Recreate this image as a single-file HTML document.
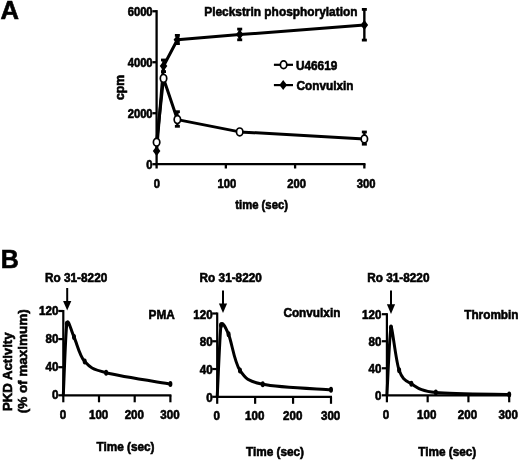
<!DOCTYPE html>
<html><head><meta charset="utf-8"><style>
html,body{margin:0;padding:0;background:#fff;}
body{width:520px;height:461px;overflow:hidden;}
svg{display:block;filter:blur(0.35px);}
text{font-family:"Liberation Sans", sans-serif;font-weight:bold;fill:#000;stroke:#000;stroke-width:0.6px;}
line{stroke:#000;stroke-linecap:butt;}
</style></head><body>
<svg width="520" height="461" viewBox="0 0 520 461">
<text transform="translate(0.5,18.90) scale(1.0000,1)" font-size="25.60" text-anchor="start" >A</text>
<text transform="translate(204.2,16.30) scale(0.8929,1)" font-size="13.33" text-anchor="start" >Pleckstrin phosphorylation</text>
<line x1="156.6" y1="10.1" x2="156.6" y2="168.5" stroke-width="2.3"/>
<line x1="155.45" y1="164.2" x2="365.5" y2="164.2" stroke-width="2.3"/>
<line x1="152.4" y1="11.259999999999991" x2="156.6" y2="11.259999999999991" stroke-width="2.3"/>
<line x1="152.4" y1="62.239999999999995" x2="156.6" y2="62.239999999999995" stroke-width="2.3"/>
<line x1="152.4" y1="113.22" x2="156.6" y2="113.22" stroke-width="2.3"/>
<line x1="152.4" y1="164.2" x2="156.6" y2="164.2" stroke-width="2.3"/>
<line x1="225.85" y1="164.2" x2="225.85" y2="168.5" stroke-width="2.3"/>
<line x1="295.1" y1="164.2" x2="295.1" y2="168.5" stroke-width="2.3"/>
<line x1="364.35" y1="164.2" x2="364.35" y2="168.5" stroke-width="2.3"/>
<text transform="translate(152.6,15.66) scale(0.9259,1)" font-size="12.10" text-anchor="end" >6000</text>
<text transform="translate(152.6,66.64) scale(0.9259,1)" font-size="12.10" text-anchor="end" >4000</text>
<text transform="translate(152.6,117.62) scale(0.9259,1)" font-size="12.10" text-anchor="end" >2000</text>
<text transform="translate(152.6,168.60) scale(0.9259,1)" font-size="12.10" text-anchor="end" >0</text>
<text transform="translate(156.9,187.90) scale(0.9259,1)" font-size="12.10" text-anchor="middle" >0</text>
<text transform="translate(226.8,187.90) scale(0.9259,1)" font-size="12.10" text-anchor="middle" >100</text>
<text transform="translate(296.6,187.90) scale(0.9259,1)" font-size="12.10" text-anchor="middle" >200</text>
<text transform="translate(366.2,187.90) scale(0.9259,1)" font-size="12.10" text-anchor="middle" >300</text>
<text transform="translate(261.6,208.90) scale(0.9259,1)" font-size="12.20" text-anchor="middle" >time (sec)</text>
<text transform="translate(123.6,87.5) rotate(-90)" font-size="12.2" text-anchor="middle">cpm</text>
<path d="M156.60,151.00 L163.53,66.00 L177.38,39.80 L239.70,34.60 L364.35,25.00" fill="none" stroke="#000" stroke-width="3.0" stroke-linejoin="round"/>
<path d="M156.60,142.20 L163.53,78.40 L177.38,119.60 L239.70,131.90 L364.35,139.00" fill="none" stroke="#000" stroke-width="3.0" stroke-linejoin="round"/>
<line x1="163.525" y1="59.6" x2="163.525" y2="72" stroke-width="2.4"/>
<line x1="161.025" y1="60.0" x2="166.025" y2="60.0" stroke-width="2.8"/>
<line x1="161.025" y1="71.6" x2="166.025" y2="71.6" stroke-width="2.8"/>
<line x1="177.375" y1="35" x2="177.375" y2="44" stroke-width="2.4"/>
<line x1="174.875" y1="35.4" x2="179.875" y2="35.4" stroke-width="2.8"/>
<line x1="174.875" y1="43.6" x2="179.875" y2="43.6" stroke-width="2.8"/>
<line x1="239.7" y1="28.7" x2="239.7" y2="40.2" stroke-width="2.4"/>
<line x1="237.2" y1="29.099999999999998" x2="242.2" y2="29.099999999999998" stroke-width="2.8"/>
<line x1="237.2" y1="39.800000000000004" x2="242.2" y2="39.800000000000004" stroke-width="2.8"/>
<line x1="364.35" y1="9" x2="364.35" y2="40.5" stroke-width="2.4"/>
<line x1="361.85" y1="9.4" x2="366.85" y2="9.4" stroke-width="2.8"/>
<line x1="361.85" y1="40.1" x2="366.85" y2="40.1" stroke-width="2.8"/>
<line x1="177.375" y1="111.3" x2="177.375" y2="126.7" stroke-width="2.4"/>
<line x1="174.875" y1="111.7" x2="179.875" y2="111.7" stroke-width="2.8"/>
<line x1="174.875" y1="126.3" x2="179.875" y2="126.3" stroke-width="2.8"/>
<line x1="364.35" y1="131.6" x2="364.35" y2="144.6" stroke-width="2.4"/>
<line x1="361.85" y1="132.0" x2="366.85" y2="132.0" stroke-width="2.8"/>
<line x1="361.85" y1="144.2" x2="366.85" y2="144.2" stroke-width="2.8"/>
<path d="M156.6,146.0 L160.4,151 L156.6,156.0 L152.79999999999998,151 Z" fill="#000" stroke="none"/>
<path d="M163.525,61.0 L167.32500000000002,66 L163.525,71.0 L159.725,66 Z" fill="#000" stroke="none"/>
<path d="M177.375,34.8 L181.175,39.8 L177.375,44.8 L173.575,39.8 Z" fill="#000" stroke="none"/>
<path d="M239.7,29.6 L243.5,34.6 L239.7,39.6 L235.89999999999998,34.6 Z" fill="#000" stroke="none"/>
<path d="M364.35,20.0 L368.15000000000003,25 L364.35,30.0 L360.55,25 Z" fill="#000" stroke="none"/>
<ellipse cx="156.6" cy="142.2" rx="3.2" ry="3.9" fill="#fff" stroke="#000" stroke-width="1.7"/>
<ellipse cx="163.525" cy="78.4" rx="3.2" ry="3.9" fill="#fff" stroke="#000" stroke-width="1.7"/>
<ellipse cx="177.375" cy="119.6" rx="3.2" ry="3.9" fill="#fff" stroke="#000" stroke-width="1.7"/>
<ellipse cx="239.7" cy="131.9" rx="3.2" ry="3.9" fill="#fff" stroke="#000" stroke-width="1.7"/>
<ellipse cx="364.35" cy="139" rx="3.2" ry="3.9" fill="#fff" stroke="#000" stroke-width="1.7"/>
<line x1="273.9" y1="64.8" x2="293" y2="64.8" stroke-width="2.2"/>
<ellipse cx="283.6" cy="64.8" rx="3.2" ry="3.9" fill="#fff" stroke="#000" stroke-width="1.7"/>
<text transform="translate(296.0,69.50) scale(0.9259,1)" font-size="12.74" text-anchor="start" >U46619</text>
<line x1="273.9" y1="85.1" x2="293" y2="85.1" stroke-width="2.2"/>
<path d="M283.2,80.1 L287.0,85.1 L283.2,90.1 L279.4,85.1 Z" fill="#000" stroke="none"/>
<text transform="translate(296.5,89.70) scale(0.9259,1)" font-size="12.74" text-anchor="start" >Convulxin</text>
<text transform="translate(0.8,267.70) scale(1.0000,1)" font-size="25.00" text-anchor="start" >B</text>
<text transform="translate(12.4,410.9) rotate(-90) scale(0.982,1)" font-size="13.4">PKD Activity</text>
<text transform="translate(26.6,413.3) rotate(-90) scale(0.983,1)" font-size="13.7">(% of maximum)</text>
<line x1="63.3" y1="310.0" x2="63.3" y2="402.3" stroke-width="2.2"/>
<line x1="62.3" y1="395.3" x2="171.4" y2="395.3" stroke-width="2.2"/>
<line x1="58.3" y1="311.0" x2="63.3" y2="311.0" stroke-width="2.2"/>
<line x1="58.3" y1="339.1" x2="63.3" y2="339.1" stroke-width="2.2"/>
<line x1="58.3" y1="367.2" x2="63.3" y2="367.2" stroke-width="2.2"/>
<line x1="58.3" y1="395.3" x2="63.3" y2="395.3" stroke-width="2.2"/>
<line x1="99.0" y1="395.3" x2="99.0" y2="402.3" stroke-width="2.2"/>
<line x1="134.7" y1="395.3" x2="134.7" y2="402.3" stroke-width="2.2"/>
<line x1="170.4" y1="395.3" x2="170.4" y2="402.3" stroke-width="2.2"/>
<text transform="translate(58.4,315.00) scale(0.9259,1)" font-size="12.53" text-anchor="end" >120</text>
<text transform="translate(58.4,343.10) scale(0.9259,1)" font-size="12.53" text-anchor="end" >80</text>
<text transform="translate(58.4,371.20) scale(0.9259,1)" font-size="12.53" text-anchor="end" >40</text>
<text transform="translate(58.4,399.30) scale(0.9259,1)" font-size="12.53" text-anchor="end" >0</text>
<text transform="translate(62.9,418.50) scale(0.9259,1)" font-size="12.53" text-anchor="middle" >0</text>
<text transform="translate(98.6,418.50) scale(0.9259,1)" font-size="12.53" text-anchor="middle" >100</text>
<text transform="translate(134.29999999999998,418.50) scale(0.9259,1)" font-size="12.53" text-anchor="middle" >200</text>
<text transform="translate(170.0,418.50) scale(0.9259,1)" font-size="12.53" text-anchor="middle" >300</text>
<text transform="translate(148.6,319.10) scale(0.9259,1)" font-size="12.74" text-anchor="start" >PMA</text>
<text transform="translate(45.0,281.60) scale(0.9259,1)" font-size="12.74" text-anchor="start" >Ro 31-8220</text>
<line x1="67.2" y1="288" x2="67.2" y2="304.6" stroke-width="2.0"/>
<path d="M63.1,301.0 L71.3,301.0 L67.2,310.6 Z" fill="#000"/>
<text transform="translate(125.5,450.70) scale(0.9259,1)" font-size="12.74" text-anchor="middle" >Time (sec)</text>
<path d="M63.30,395.30 C63.89,383.36 65.62,330.45 66.87,323.64 C68.12,316.84 71.03,330.67 74.01,336.99 C76.98,343.31 79.36,355.61 84.72,361.58 C90.08,367.55 91.86,369.07 106.14,372.82 C120.42,376.57 159.69,382.19 170.40,384.06" fill="none" stroke="#000" stroke-width="3.0" stroke-linejoin="round"/>
<ellipse cx="66.87" cy="323.64" rx="2.0" ry="3.0" fill="#000"/>
<ellipse cx="74.01" cy="336.99" rx="2.0" ry="3.0" fill="#000"/>
<ellipse cx="84.72" cy="361.58" rx="2.0" ry="3.0" fill="#000"/>
<ellipse cx="106.14" cy="372.82" rx="2.0" ry="3.0" fill="#000"/>
<ellipse cx="170.40" cy="384.06" rx="2.0" ry="3.0" fill="#000"/>
<line x1="217.2" y1="312.5" x2="217.2" y2="403.8" stroke-width="2.2"/>
<line x1="216.2" y1="396.8" x2="332.0" y2="396.8" stroke-width="2.2"/>
<line x1="212.2" y1="313.5" x2="217.2" y2="313.5" stroke-width="2.2"/>
<line x1="212.2" y1="341.26666666666665" x2="217.2" y2="341.26666666666665" stroke-width="2.2"/>
<line x1="212.2" y1="369.03333333333336" x2="217.2" y2="369.03333333333336" stroke-width="2.2"/>
<line x1="212.2" y1="396.8" x2="217.2" y2="396.8" stroke-width="2.2"/>
<line x1="255.13333333333333" y1="396.8" x2="255.13333333333333" y2="403.8" stroke-width="2.2"/>
<line x1="293.06666666666666" y1="396.8" x2="293.06666666666666" y2="403.8" stroke-width="2.2"/>
<line x1="331.0" y1="396.8" x2="331.0" y2="403.8" stroke-width="2.2"/>
<text transform="translate(212.6,318.50) scale(0.9259,1)" font-size="12.53" text-anchor="end" >120</text>
<text transform="translate(212.6,346.27) scale(0.9259,1)" font-size="12.53" text-anchor="end" >80</text>
<text transform="translate(212.6,374.03) scale(0.9259,1)" font-size="12.53" text-anchor="end" >40</text>
<text transform="translate(212.6,401.80) scale(0.9259,1)" font-size="12.53" text-anchor="end" >0</text>
<text transform="translate(216.79999999999998,420.40) scale(0.9259,1)" font-size="12.53" text-anchor="middle" >0</text>
<text transform="translate(254.73333333333332,420.40) scale(0.9259,1)" font-size="12.53" text-anchor="middle" >100</text>
<text transform="translate(292.6666666666667,420.40) scale(0.9259,1)" font-size="12.53" text-anchor="middle" >200</text>
<text transform="translate(330.6,420.40) scale(0.9259,1)" font-size="12.53" text-anchor="middle" >300</text>
<text transform="translate(283.4,317.10) scale(0.9259,1)" font-size="12.74" text-anchor="start" >Convulxin</text>
<text transform="translate(199.6,282.20) scale(0.9259,1)" font-size="12.74" text-anchor="start" >Ro 31-8220</text>
<line x1="223.0" y1="290.4" x2="223.0" y2="307.0" stroke-width="2.0"/>
<path d="M218.9,303.4 L227.1,303.4 L223.0,313.0 Z" fill="#000"/>
<text transform="translate(275.0,456.30) scale(0.9259,1)" font-size="12.74" text-anchor="middle" >Time (sec)</text>
<path d="M217.20,396.80 C217.83,384.88 220.04,330.51 220.99,325.30 C221.94,320.09 225.42,326.80 228.58,334.32 C231.74,341.85 234.27,362.09 239.96,370.42 C245.65,378.75 247.55,381.07 262.72,384.31 C277.89,387.54 319.62,388.93 331.00,389.86" fill="none" stroke="#000" stroke-width="3.0" stroke-linejoin="round"/>
<ellipse cx="220.99" cy="325.30" rx="2.0" ry="3.0" fill="#000"/>
<ellipse cx="228.58" cy="334.32" rx="2.0" ry="3.0" fill="#000"/>
<ellipse cx="239.96" cy="370.42" rx="2.0" ry="3.0" fill="#000"/>
<ellipse cx="262.72" cy="384.31" rx="2.0" ry="3.0" fill="#000"/>
<ellipse cx="331.00" cy="389.86" rx="2.0" ry="3.0" fill="#000"/>
<line x1="386.9" y1="313.2" x2="386.9" y2="402.3" stroke-width="2.2"/>
<line x1="385.9" y1="395.3" x2="510.2" y2="395.3" stroke-width="2.2"/>
<line x1="381.9" y1="314.2" x2="386.9" y2="314.2" stroke-width="2.2"/>
<line x1="381.9" y1="341.23333333333335" x2="386.9" y2="341.23333333333335" stroke-width="2.2"/>
<line x1="381.9" y1="368.26666666666665" x2="386.9" y2="368.26666666666665" stroke-width="2.2"/>
<line x1="381.9" y1="395.3" x2="386.9" y2="395.3" stroke-width="2.2"/>
<line x1="427.66666666666663" y1="395.3" x2="427.66666666666663" y2="402.3" stroke-width="2.2"/>
<line x1="468.4333333333333" y1="395.3" x2="468.4333333333333" y2="402.3" stroke-width="2.2"/>
<line x1="509.2" y1="395.3" x2="509.2" y2="402.3" stroke-width="2.2"/>
<text transform="translate(381.4,318.80) scale(0.9259,1)" font-size="12.53" text-anchor="end" >120</text>
<text transform="translate(381.4,345.83) scale(0.9259,1)" font-size="12.53" text-anchor="end" >80</text>
<text transform="translate(381.4,372.87) scale(0.9259,1)" font-size="12.53" text-anchor="end" >40</text>
<text transform="translate(381.4,399.90) scale(0.9259,1)" font-size="12.53" text-anchor="end" >0</text>
<text transform="translate(385.9,419.30) scale(0.9259,1)" font-size="12.53" text-anchor="middle" >0</text>
<text transform="translate(426.66666666666663,419.30) scale(0.9259,1)" font-size="12.53" text-anchor="middle" >100</text>
<text transform="translate(467.4333333333333,419.30) scale(0.9259,1)" font-size="12.53" text-anchor="middle" >200</text>
<text transform="translate(508.2,419.30) scale(0.9259,1)" font-size="12.53" text-anchor="middle" >300</text>
<text transform="translate(464.2,318.50) scale(0.9259,1)" font-size="12.74" text-anchor="start" >Thrombin</text>
<text transform="translate(367.2,282.20) scale(0.9259,1)" font-size="12.74" text-anchor="start" >Ro 31-8220</text>
<line x1="391.0" y1="290.6" x2="391.0" y2="307.9" stroke-width="2.0"/>
<path d="M386.9,304.29999999999995 L395.1,304.29999999999995 L391.0,313.9 Z" fill="#000"/>
<text transform="translate(447.2,455.50) scale(0.9259,1)" font-size="12.74" text-anchor="middle" >Time (sec)</text>
<path d="M386.90,395.30 C387.58,383.98 389.75,329.88 390.98,327.38 C392.20,324.88 395.73,360.89 399.13,370.29 C402.53,379.70 405.24,380.09 411.36,383.81 C417.47,387.53 419.51,390.82 435.82,392.60 C452.13,394.38 496.97,394.17 509.20,394.49" fill="none" stroke="#000" stroke-width="3.0" stroke-linejoin="round"/>
<ellipse cx="390.98" cy="327.38" rx="2.0" ry="3.0" fill="#000"/>
<ellipse cx="399.13" cy="370.29" rx="2.0" ry="3.0" fill="#000"/>
<ellipse cx="411.36" cy="383.81" rx="2.0" ry="3.0" fill="#000"/>
<ellipse cx="435.82" cy="392.60" rx="2.0" ry="3.0" fill="#000"/>
<ellipse cx="509.20" cy="394.49" rx="2.0" ry="3.0" fill="#000"/>
</svg>
</body></html>
